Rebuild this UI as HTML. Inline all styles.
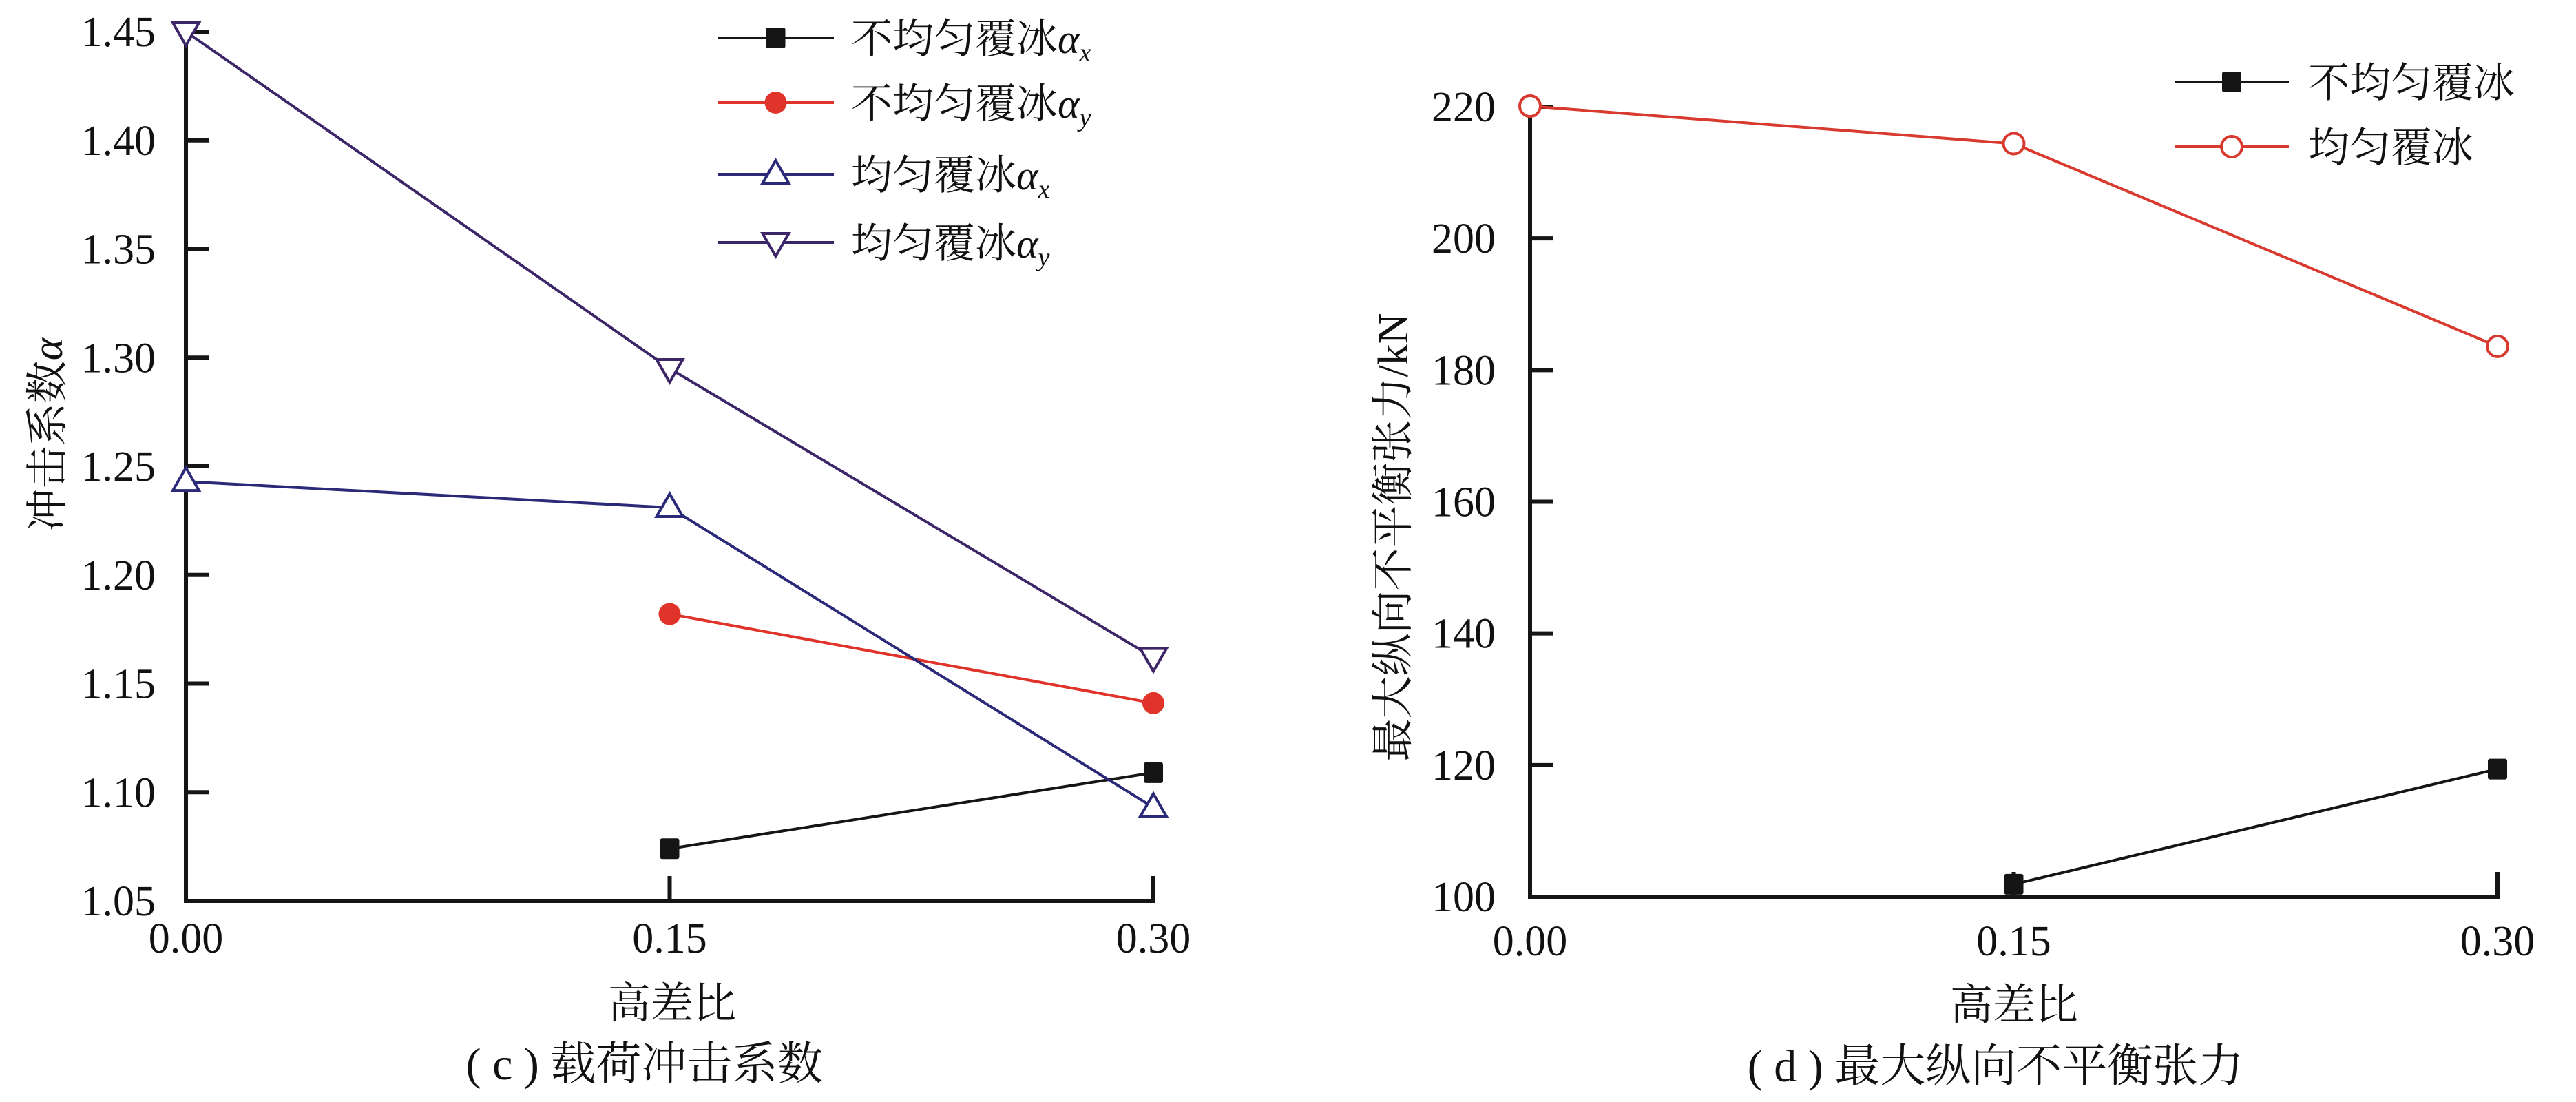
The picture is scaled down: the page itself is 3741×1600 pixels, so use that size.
<!DOCTYPE html>
<html><head><meta charset="utf-8"><style>
html,body{margin:0;padding:0;background:#fff;}
svg{display:block;}
text{font-family:"Liberation Serif","Noto Serif CJK SC",serif;fill:#111;}
</style></head><body>
<svg id="fig" width="3741" height="1600" viewBox="0 0 3741 1600" xmlns="http://www.w3.org/2000/svg"></svg>
<script>
// ---- chart (c) data ----
const cCats = [0.00, 0.15, 0.30];
const cTickLabels = ["1.05","1.10","1.15","1.20","1.25","1.30","1.35","1.40","1.45"];
const cTickValues = [1.05,1.10,1.15,1.20,1.25,1.30,1.35,1.40,1.45];
const cXLabels = ["0.00","0.15","0.30"];
const cNonAx = [null, 1.074, 1.109];
const cNonAy = [null, 1.182, 1.141];
const cUniAx = [1.243, 1.231, 1.093];
const cUniAy = [1.450, 1.295, 1.162];
// ---- chart (d) data ----
const dCats = [0.00, 0.15, 0.30];
const dTickValues = [100,120,140,160,180,200,220];
const dTickLabels = ["100","120","140","160","180","200","220"];
const dXLabels = ["0.00","0.15","0.30"];
const dNon = [null, 101.9, 119.4];
const dUni = [220.1, 214.4, 183.6];

const NS="http://www.w3.org/2000/svg";
const svg=document.getElementById('fig');
function mk(tag,attrs,parent){const e=document.createElementNS(NS,tag);for(const k in attrs)e.setAttribute(k,attrs[k]);(parent||svg).appendChild(e);return e;}

function marker(g,type,x,y,color){
  let m;
  if(type==='square'){m=mk('rect',{x:x-14,y:y-15,width:28,height:30,rx:3,fill:'#151515'},g);}
  else if(type==='dot'){m=mk('circle',{cx:x,cy:y,r:16,fill:color},g);}
  else if(type==='circle'){m=mk('circle',{cx:x,cy:y,r:15,fill:'#fff',stroke:color,'stroke-width':4},g);}
  else if(type==='up'){m=mk('polygon',{points:`${x},${y-20} ${x-19},${y+13} ${x+19},${y+13}`,fill:'#fff',stroke:color,'stroke-width':4},g);}
  else {m=mk('polygon',{points:`${x},${y+20} ${x-19},${y-13} ${x+19},${y-13}`,fill:'#fff',stroke:color,'stroke-width':4},g);}
  return m;
}

function drawChart(cfg){
  const g=mk('g',{});
  
  
  const X=v=>cfg.x0+(v-cfg.xmin)/(cfg.xmax-cfg.xmin)*(cfg.x1-cfg.x0);
  const Y=v=>cfg.yb+(v-cfg.ymin)/(cfg.ymax-cfg.ymin)*(cfg.yt-cfg.yb);
  // axes
  const ax=mk('path',{d:`M${cfg.x0},${cfg.yt} L${cfg.x0},${cfg.yb} L${cfg.x1},${cfg.yb} L${cfg.x1},${cfg.yb-36}`,fill:'none',stroke:'#151515','stroke-width':6},g);
  
  
  cfg.yticks.forEach((v,i)=>{
    const y=Y(v);
    if(i>0){const t=mk('line',{x1:cfg.x0,y1:y,x2:cfg.x0+34,y2:y,stroke:'#151515','stroke-width':6},g);
      
      }
    const l=mk('text',{x:cfg.labR,y:y+21,'font-size':62,'text-anchor':'end'},g);
    l.textContent=cfg.ylabels[i];
    
    
  });
  cfg.cats.forEach((c,i)=>{
    const x=X(c);
    if(i===1){const t=mk('line',{x1:x,y1:cfg.yb,x2:x,y2:cfg.yb-36,stroke:'#151515','stroke-width':6},g);
      
      }
    const l=mk('text',{x:x,y:cfg.xlabY,'font-size':62,'text-anchor':'middle'},g);
    l.textContent=cfg.xlabels[i];
    
    
  });
  // series
  cfg.series.forEach(s=>{
    const sg=mk('g',{},g);
    
    
    const pts=[];
    s.vals.forEach((v,i)=>{if(v!==null)pts.push([X(cfg.cats[i]),Y(v)]);});
    const pl=mk('polyline',{points:pts.map(p=>p.join(',')).join(' '),fill:'none',stroke:s.color,'stroke-width':4},sg);
    
    
    pts.forEach(p=>{const m=marker(sg,s.marker,p[0],p[1],s.color);
      
      });
  });
  // legend
  cfg.series.forEach((s,i)=>{
    const lg=mk('g',{},g);
    
    
    const y=cfg.legY[i];
    mk('line',{x1:cfg.legX0,y1:y,x2:cfg.legX1,y2:y,stroke:s.color,'stroke-width':4},lg);
    marker(lg,s.marker,(cfg.legX0+cfg.legX1)/2,y,s.color);
    const t=mk('text',{x:cfg.legT,y:y+22,'font-size':60},lg);
    t.innerHTML=s.label;
  });
}

drawChart({name:'impact-coefficient-chart',x0:270,x1:1675,yb:1308,yt:46,xmin:0,xmax:0.30,ymin:1.05,ymax:1.45,
  cats:cCats,yticks:cTickValues,ylabels:cTickLabels,xlabels:cXLabels,labR:226,xlabY:1383,
  legX0:1042,legX1:1211,legT:1236,legY:[55,149,253,352],
  series:[
    {name:'nonuniform-ax',vals:cNonAx,color:'#151515',marker:'square',label:'不均匀覆冰<tspan font-style="italic">α</tspan><tspan font-style="italic" font-size="38" dy="12">x</tspan>'},
    {name:'nonuniform-ay',vals:cNonAy,color:'#e0332a',marker:'dot',label:'不均匀覆冰<tspan font-style="italic">α</tspan><tspan font-style="italic" font-size="38" dy="12">y</tspan>'},
    {name:'uniform-ax',vals:cUniAx,color:'#2b2a78',marker:'up',label:'均匀覆冰<tspan font-style="italic">α</tspan><tspan font-style="italic" font-size="38" dy="12">x</tspan>'},
    {name:'uniform-ay',vals:cUniAy,color:'#3d2668',marker:'down',label:'均匀覆冰<tspan font-style="italic">α</tspan><tspan font-style="italic" font-size="38" dy="12">y</tspan>'}
  ]});

drawChart({name:'max-tension-chart',x0:2222,x1:3627,yb:1302,yt:155,xmin:0,xmax:0.30,ymin:100,ymax:220,
  cats:dCats,yticks:dTickValues,ylabels:dTickLabels,xlabels:dXLabels,labR:2172,xlabY:1387,
  legX0:3158,legX1:3324,legT:3352,legY:[119,213],
  series:[
    {name:'nonuniform-tension',vals:dNon,color:'#151515',marker:'square',label:'不均匀覆冰'},
    {name:'uniform-tension',vals:dUni,color:'#d93a2f',marker:'circle',label:'均匀覆冰'}
  ]});

function txt(name,x,y,size,content,rot){
  const t=mk('text',{x:x,y:y,'font-size':size,'text-anchor':'middle'});
  if(rot)t.setAttribute('transform',`rotate(-90 ${x} ${y})`);
  t.innerHTML=content;
  
  
}
txt('y-axis-title-c',90,631,62,'冲击系数<tspan font-style="italic">α</tspan>',true);
txt('x-axis-title-c',976,1478,62,'高差比');
txt('caption-c',936,1567,66,'( c ) 载荷冲击系数');
txt('y-axis-title-d',2044,780,62,'最大纵向不平衡张力/kN',true);
txt('x-axis-title-d',2925,1480,62,'高差比');
txt('caption-d',2898,1570,66,'( d ) 最大纵向不平衡张力');
</script>
</body></html>
